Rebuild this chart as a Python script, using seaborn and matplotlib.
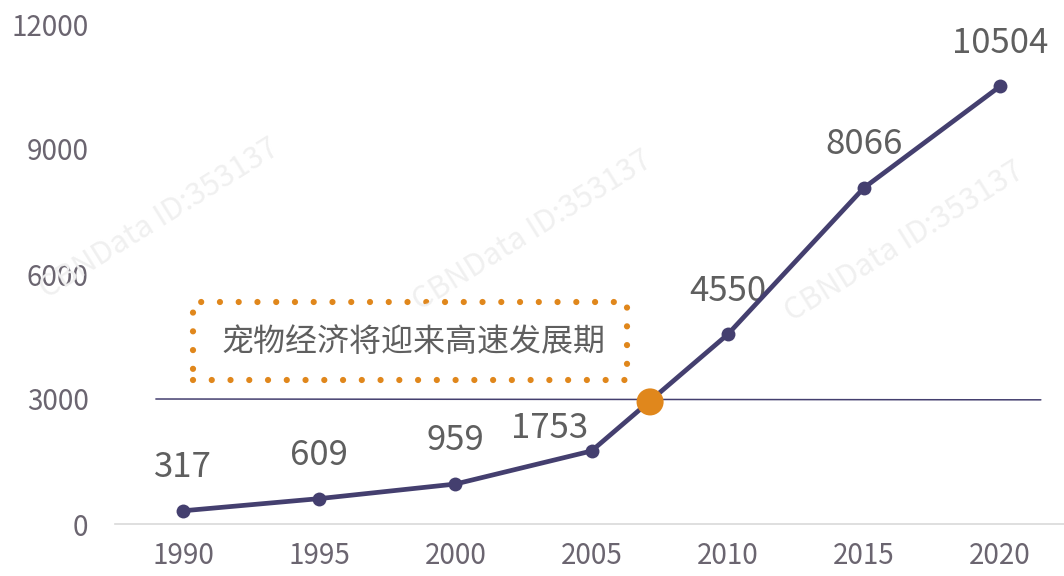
import matplotlib
matplotlib.use("Agg")
import matplotlib.pyplot as plt
from matplotlib.patches import Rectangle
import pandas as pd
import seaborn as sns

years = [1990, 1995, 2000, 2005, 2010, 2015, 2020]
values = [317, 609, 959, 1753, 4550, 8066, 10504]
y_ticks = [0, 3000, 6000, 9000, 12000]
ref_level = 3000
mark_year, mark_value = 2007.15, 2930
callout = "宠物经济将迎来高速发展期"
watermark = "CBNData ID:353137"

LINE = "#443f6f"
ORANGE = "#e0871c"
LABEL = "#5f5f5f"
TICK = "#6b6570"

sns.set_style("white")
plt.rcParams["font.family"] = ["Noto Sans CJK SC", "DejaVu Sans"]

df = pd.DataFrame({"year": years, "value": values})

fig = plt.figure(figsize=(10.64, 5.76), dpi=100)
ax = fig.add_axes([115 / 1064, 1 - 524 / 576, 1 - 115 / 1064, (524 - 24) / 576])

# faint watermarks behind the chart
for wx, wy in [(0.15, 0.62), (0.5, 0.6), (0.85, 0.58)]:
    fig.text(wx, wy, watermark, rotation=32, fontsize=22, color="#f0f0f0",
             ha="center", va="center", zorder=0)

sns.lineplot(data=df, x="year", y="value", ax=ax, color=LINE, lw=3.4,
             marker="o", markersize=10, markeredgewidth=0, zorder=4)

ax.plot([1989.0, 2021.5], [ref_level, ref_level - 20], color=LINE, lw=1.1, zorder=3)
ax.scatter([mark_year], [mark_value], s=380, color=ORANGE, zorder=5, edgecolor="none")

for x, y in zip(years, values):
    dx = -30 if x == 2005 else 0
    dy = 16 if x == 2005 else 31
    ax.annotate(str(y), (x, y), xytext=(dx, dy), textcoords="offset points",
                ha="center", va="center", fontsize=25, color=LABEL)

box = Rectangle((1990.37, 3456), 2006.3 - 1990.37, 5328 - 3456, fill=False,
                edgecolor=ORANGE, lw=4.5, ls=(0, (0.001, 3.0)), capstyle="round",
                joinstyle="round", zorder=3)
ax.add_patch(box)
ax.text(1998.45, 4368, callout, ha="center", va="center", fontsize=23, color=LABEL)

ax.set_xlim(1987.5, 2022.35)
ax.set_ylim(0, 12000)
ax.set_xticks(years)
ax.set_yticks(y_ticks)
ax.set_xlabel("")
ax.set_ylabel("")
ax.tick_params(axis="both", length=0, labelsize=20, labelcolor=TICK)
ax.tick_params(axis="y", pad=19)
ax.tick_params(axis="x", pad=12)
for s in ["left", "right", "top"]:
    ax.spines[s].set_visible(False)
ax.spines["bottom"].set_color("#d9d9d9")
ax.spines["bottom"].set_linewidth(1.2)
ax.patch.set_alpha(0)

fig.savefig("out.png", dpi=100)
